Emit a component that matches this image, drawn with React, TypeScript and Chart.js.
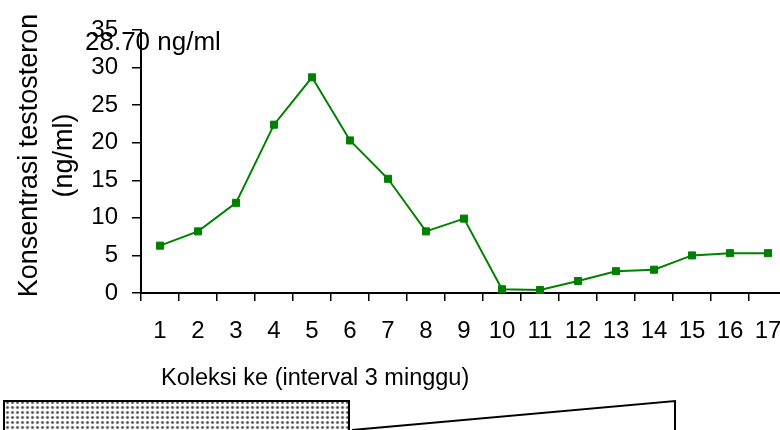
import React, { useEffect, useRef } from "react";
import { Chart, registerables } from "chart.js";

Chart.register(...registerables);

// ---- data ----
const categories = ["1", "2", "3", "4", "5", "6", "7", "8", "9", "10", "11", "12", "13", "14", "15", "16", "17"];
const testosterone = [6.3, 8.2, 12.0, 22.4, 28.7, 20.3, 15.2, 8.2, 9.9, 0.5, 0.4, 1.6, 2.9, 3.1, 5.0, 5.3, 5.3];
const yTickValues = [0, 5, 10, 15, 20, 25, 30, 35];
const yTitle = ["Konsentrasi testosteron", "(ng/ml)"];
const xTitle = "Koleksi ke (interval 3 minggu)";
const unit = "ng/ml";

const FAMILY = '"Liberation Sans", Arial, Helvetica, sans-serif';

function makeDotPattern(ctx: CanvasRenderingContext2D): CanvasPattern | string {
  const tile = document.createElement("canvas");
  tile.width = 5;
  tile.height = 5;
  const t = tile.getContext("2d");
  if (!t) return "#bbb";
  t.fillStyle = "#ffffff";
  t.fillRect(0, 0, 5, 5);
  t.fillStyle = "#a8a8a8";
  t.beginPath();
  t.arc(2.5, 2.5, 1.8, 0, Math.PI * 2);
  t.fill();
  t.fillStyle = "#444444";
  t.beginPath();
  t.arc(2.5, 2.5, 1.0, 0, Math.PI * 2);
  t.fill();
  return ctx.createPattern(tile, "repeat") || "#bbb";
}

const extrasPlugin = {
  id: "extras",
  afterDraw(chart: any) {
    const { ctx, chartArea } = chart;
    ctx.save();
    ctx.fillStyle = "#000";
    ctx.textAlign = "left";
    ctx.textBaseline = "alphabetic";

    // peak annotation
    const peak = Math.max(...testosterone);
    ctx.font = `26px ${FAMILY}`;
    ctx.fillText(`${peak.toFixed(2)} ${unit}`, chartArea.left - 56, 50);

    // x axis title
    ctx.font = `23.5px ${FAMILY}`;
    ctx.fillText(xTitle, chartArea.left + 20, 385);

    // y axis title (two rotated lines)
    ctx.save();
    ctx.translate(chartArea.left - 111, (chartArea.top + chartArea.bottom) / 2 - 6);
    ctx.rotate(-Math.PI / 2);
    ctx.textAlign = "center";
    ctx.textBaseline = "middle";
    ctx.font = `27px ${FAMILY}`;
    ctx.fillText(yTitle[0], 0, 0);
    ctx.fillText(yTitle[1], 0, 35);
    ctx.restore();

    // bottom decorative shapes (part of the following figure)
    ctx.fillStyle = makeDotPattern(ctx);
    ctx.fillRect(4, 401, 345, 40);
    ctx.strokeStyle = "#000";
    ctx.lineWidth = 2;
    ctx.strokeRect(4, 401, 345, 40);

    ctx.beginPath();
    ctx.moveTo(352, 430);
    ctx.lineTo(675, 401);
    ctx.lineTo(675, 440);
    ctx.stroke();
    ctx.restore();
  },
};

export default function App() {
  const canvasRef = useRef<HTMLCanvasElement | null>(null);

  useEffect(() => {
    if (!canvasRef.current) return;
    Chart.defaults.font.family = FAMILY;
    Chart.defaults.color = "#000";
    const chart = new Chart(canvasRef.current, {
      type: "line",
      data: {
        labels: categories,
        datasets: [
          {
            data: testosterone,
            borderColor: "#008000",
            backgroundColor: "#008000",
            borderWidth: 2,
            pointStyle: "rect",
            pointRadius: 5,
            pointBackgroundColor: "#008000",
            pointBorderColor: "#008000",
            pointBorderWidth: 1,
            tension: 0,
            clip: false as any,
          },
        ],
      },
      options: {
        animation: false,
        responsive: true,
        maintainAspectRatio: false,
        layout: { padding: { top: 30, right: 13, left: 0, bottom: 0 } },
        plugins: {
          legend: { display: false },
          tooltip: { enabled: false },
          title: { display: false },
        },
        scales: {
          x: {
            type: "category",
            offset: true,
            grid: {
              offset: true,
              drawOnChartArea: false,
              drawTicks: true,
              tickLength: 8,
              color: "#000",
              lineWidth: 1.5,
            },
            border: { display: true, color: "#000", width: 2 },
            ticks: {
              color: "#000",
              font: { size: 24, family: FAMILY },
              padding: 16,
              maxRotation: 0,
              autoSkip: false,
            },
            afterFit: (s: any) => {
              s.height = 137;
            },
          },
          y: {
            min: yTickValues[0],
            max: yTickValues[yTickValues.length - 1],
            afterBuildTicks: (s: any) => {
              s.ticks = yTickValues.map((v) => ({ value: v }));
            },
            grid: {
              drawOnChartArea: false,
              drawTicks: true,
              tickLength: 9,
              color: "#000",
              lineWidth: 1.5,
            },
            border: { display: true, color: "#000", width: 2 },
            ticks: {
              color: "#000",
              font: { size: 24, family: FAMILY },
              padding: 14,
            },
            title: { display: false },
            afterFit: (s: any) => {
              s.width = 141;
            },
          },
        },
      },
      plugins: [extrasPlugin],
    });
    return () => chart.destroy();
  }, []);

  return (
    <div
      style={{
        position: "absolute",
        left: 0,
        top: 0,
        width: 780,
        height: 430,
        overflow: "hidden",
        background: "#fff",
      }}
    >
      <div style={{ position: "relative", width: 800, height: 430 }}>
        <canvas ref={canvasRef} />
      </div>
    </div>
  );
}
